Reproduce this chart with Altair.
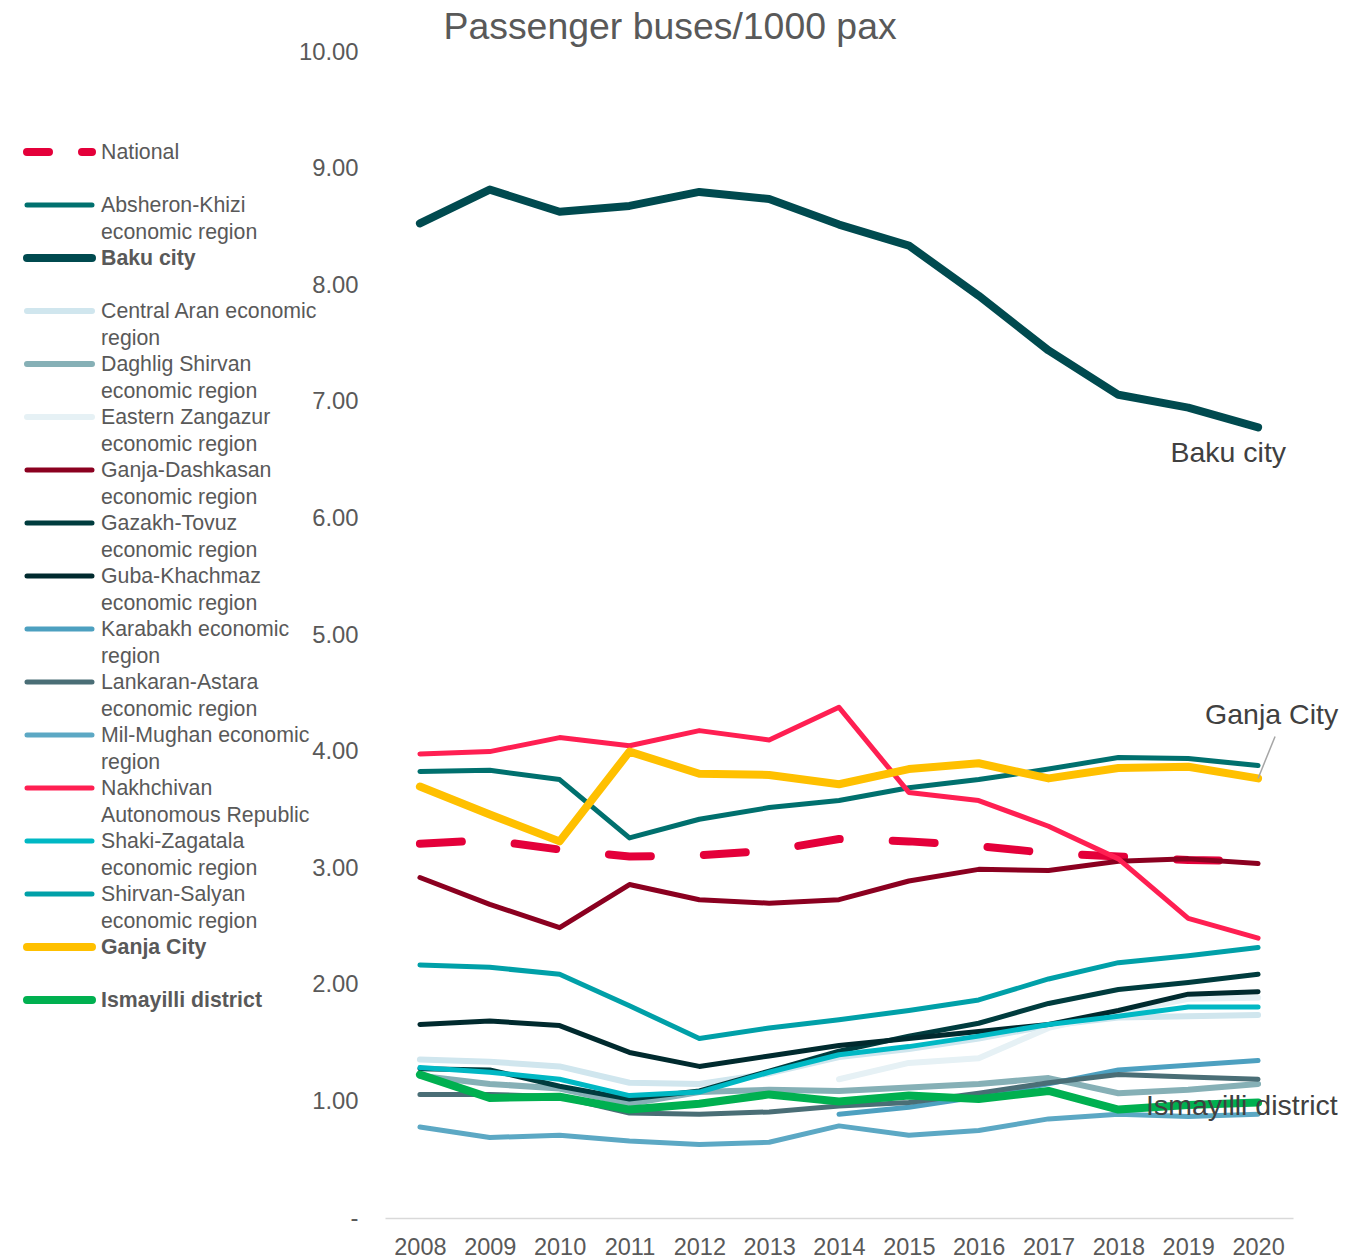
import altair as alt
import pandas as pd

FONT = "Liberation Sans"
TXT = "#595959"

years = list(range(2008, 2021))

series_names = [
    "National",
    "Absheron-Khizi economic region",
    "Baku city",
    "Central Aran economic region",
    "Daghlig Shirvan economic region",
    "Eastern Zangazur economic region",
    "Ganja-Dashkasan economic region",
    "Gazakh-Tovuz economic region",
    "Guba-Khachmaz economic region",
    "Karabakh economic region",
    "Lankaran-Astara economic region",
    "Mil-Mughan economic region",
    "Nakhchivan Autonomous Republic",
    "Shaki-Zagatala economic region",
    "Shirvan-Salyan economic region",
    "Ganja City",
    "Ismayilli district",
]

legend_labels = [
    "National",
    "Absheron-Khizi\neconomic region",
    "Baku city",
    "Central Aran economic\nregion",
    "Daghlig Shirvan\neconomic region",
    "Eastern Zangazur\neconomic region",
    "Ganja-Dashkasan\neconomic region",
    "Gazakh-Tovuz\neconomic region",
    "Guba-Khachmaz\neconomic region",
    "Karabakh economic\nregion",
    "Lankaran-Astara\neconomic region",
    "Mil-Mughan economic\nregion",
    "Nakhchivan\nAutonomous Republic",
    "Shaki-Zagatala\neconomic region",
    "Shirvan-Salyan\neconomic region",
    "Ganja City",
    "Ismayilli district",
]

bold_series = ["Baku city", "Ganja City", "Ismayilli district"]

colors = [
    "#e4003a", "#00706e", "#004a4f", "#d0e6ee", "#86b0b6", "#e6f1f5",
    "#8b0020", "#003c3e", "#002a2e", "#4da0c0", "#4a6e76", "#5ca8c4",
    "#ff1f52", "#00b8c4", "#00a0a8", "#ffc000", "#00b050",
]
line_widths = [10, 5, 10, 6, 5, 6, 5, 5, 5, 5, 5, 5, 5, 5, 5, 10, 9.5]
legend_widths = [8, 5, 8, 6, 6, 6, 5, 5, 5, 5, 5, 5, 5, 5, 5, 8, 8]
legend_dash = [[22, 33]] + [[1, 0]] * 16

national = [3.21, 3.24, 3.16, 3.10, 3.11, 3.15, 3.25, 3.23, 3.19, 3.13, 3.10, 3.07, 3.06]
absheron = [3.83, 3.84, 3.76, 3.26, 3.42, 3.52, 3.58, 3.69, 3.76, 3.85, 3.95, 3.94, 3.88]
baku = [8.53, 8.82, 8.63, 8.68, 8.80, 8.74, 8.52, 8.34, 7.91, 7.44, 7.06, 6.95, 6.78]
central_aran = [1.36, 1.34, 1.30, 1.16, 1.15, 1.24, 1.38, 1.45, 1.54, 1.65, 1.72, 1.73, 1.74]
daghlig = [1.22, 1.15, 1.11, 0.98, 1.08, 1.10, 1.09, 1.12, 1.15, 1.20, 1.07, 1.10, 1.15]
eastern = [None, None, None, None, None, None, 1.19, 1.33, 1.37, 1.63, 1.76, 1.88, 1.89]
ganja_dashkasan = [2.92, 2.69, 2.49, 2.86, 2.73, 2.70, 2.73, 2.89, 2.99, 2.98, 3.06, 3.08, 3.04]
gazakh = [1.28, 1.27, 1.13, 1.02, 1.09, 1.26, 1.43, 1.56, 1.67, 1.84, 1.96, 2.02, 2.09]
guba = [1.66, 1.69, 1.65, 1.42, 1.30, 1.39, 1.48, 1.54, 1.60, 1.66, 1.78, 1.92, 1.94]
karabakh = [None, None, None, None, None, None, 0.89, 0.95, 1.04, 1.15, 1.27, 1.31, 1.35]
lankaran = [1.06, 1.06, 1.04, 0.90, 0.89, 0.91, 0.96, 0.99, 1.07, 1.16, 1.23, 1.21, 1.19]
mil_mughan = [0.78, 0.69, 0.71, 0.66, 0.63, 0.65, 0.79, 0.71, 0.75, 0.85, 0.89, 0.87, 0.89]
nakhchivan = [3.98, 4.00, 4.12, 4.05, 4.18, 4.10, 4.38, 3.65, 3.58, 3.36, 3.08, 2.57, 2.40]
shaki = [1.29, 1.25, 1.19, 1.05, 1.08, 1.25, 1.40, 1.47, 1.56, 1.66, 1.73, 1.81, 1.81]
shirvan = [2.17, 2.15, 2.09, 1.82, 1.54, 1.63, 1.70, 1.78, 1.87, 2.05, 2.19, 2.25, 2.32]
ganja_city = [3.70, 3.46, 3.23, 4.00, 3.81, 3.80, 3.72, 3.85, 3.90, 3.77, 3.86, 3.87, 3.77]
ismayilli = [1.23, 1.03, 1.04, 0.93, 0.98, 1.06, 1.00, 1.05, 1.02, 1.09, 0.93, 0.97, 0.99]

series_values = [
    national, absheron, baku, central_aran, daghlig, eastern, ganja_dashkasan,
    gazakh, guba, karabakh, lankaran, mil_mughan, nakhchivan, shaki, shirvan,
    ganja_city, ismayilli,
]

rows = []
for name, vals in zip(series_names, series_values):
    for yr, v in zip(years, vals):
        if v is not None:
            rows.append({"series": name, "year": yr, "value": v})
df = pd.DataFrame(rows)

color_scale = alt.Scale(domain=series_names, range=colors)
width_scale = alt.Scale(type="ordinal", domain=series_names, range=line_widths)

x_enc = alt.X(
    "year:O",
    scale=alt.Scale(type="point", padding=0.5),
    axis=alt.Axis(
        title=None, labelAngle=0, ticks=False, domainColor="#d9d9d9",
        domainWidth=1.5, labelPadding=17, labelFontSize=23.5, labelColor=TXT,
        labelFont=FONT,
    ),
)
y_enc = alt.Y(
    "value:Q",
    scale=alt.Scale(domain=[0, 10], nice=False),
    axis=alt.Axis(
        title=None, values=list(range(11)), grid=False, domain=False,
        ticks=False, labelPadding=27, labelFontSize=23.8, labelColor=TXT,
        labelFont=FONT,
        labelExpr="datum.value == 0 ? '-' : format(datum.value, '.2f')",
    ),
)

base = alt.Chart(df).encode(
    x=x_enc,
    y=y_enc,
    color=alt.Color("series:N", scale=color_scale, legend=None),
    strokeWidth=alt.StrokeWidth("series:N", scale=width_scale, legend=None),
)

thin = [n for n in series_names if n != "National" and n not in bold_series]

nat_layer = base.transform_filter(alt.datum.series == "National").mark_line(
    strokeDash=[42, 53], strokeCap="round", strokeJoin="round"
)
thin_layer = base.transform_filter(
    alt.FieldOneOfPredicate(field="series", oneOf=thin)
).mark_line(strokeCap="round", strokeJoin="round")
thick_layer = base.transform_filter(
    alt.FieldOneOfPredicate(field="series", oneOf=bold_series)
).mark_line(strokeCap="round", strokeJoin="round")

# annotations at the last point of the highlighted series
ann_df = pd.DataFrame({
    "series": bold_series,
    "year": [years[-1]] * 3,
    "value": [baku[-1], ganja_city[-1], ismayilli[-1]],
    "leader_top": [None, 4.13, None],
})

ann_base = alt.Chart(ann_df).encode(x=alt.X("year:O"), y=alt.Y("value:Q"), text="series:N")
ann_style = dict(fontSize=28.5, color="#404040", font=FONT, baseline="middle")
baku_txt = ann_base.transform_filter(alt.datum.series == "Baku city").mark_text(
    align="right", dx=28, dy=26, **ann_style)
ganja_txt = ann_base.transform_filter(alt.datum.series == "Ganja City").mark_text(
    align="left", dx=-53, dy=-63, **ann_style)
ism_txt = ann_base.transform_filter(alt.datum.series == "Ismayilli district").mark_text(
    align="left", dx=-112, dy=3, **ann_style)
leader = alt.Chart(ann_df).transform_filter(alt.datum.series == "Ganja City").mark_rule(
    color="#a6a6a6", strokeWidth=1.5, x2Offset=17
).encode(x="year:O", x2="year:O", y="value:Q", y2="leader_top:Q")

main = alt.layer(
    nat_layer, thin_layer, thick_layer, leader, baku_txt, ganja_txt, ism_txt
).properties(width=908, height=1166)

# legend panel
leg_df = pd.DataFrame({
    "series": series_names,
    "label": legend_labels,
    "bold": [n in bold_series for n in series_names],
})
leg_y = alt.Y(
    "series:N",
    scale=alt.Scale(type="point", domain=series_names, range=[100, 948], padding=0),
    axis=None,
)
leg_rules = alt.Chart(leg_df).mark_rule(strokeCap="round").encode(
    x=alt.value(19),
    x2=alt.value(84),
    y=leg_y,
    color=alt.Color("series:N", scale=color_scale, legend=None),
    strokeWidth=alt.StrokeWidth(
        "series:N", scale=alt.Scale(type="ordinal", domain=series_names, range=legend_widths),
        legend=None),
    strokeDash=alt.StrokeDash(
        "series:N", scale=alt.Scale(domain=series_names, range=legend_dash), legend=None),
)
txt_style = dict(align="left", baseline="alphabetic", dy=7, fontSize=21.3,
                 lineHeight=26.5, lineBreak="\n", color=TXT, font=FONT)
leg_text = alt.Chart(leg_df).transform_filter(alt.datum.bold == False).mark_text(
    **txt_style).encode(x=alt.value(93), y=leg_y, text="label:N")
leg_text_bold = alt.Chart(leg_df).transform_filter(alt.datum.bold == True).mark_text(
    fontWeight="bold", **txt_style).encode(x=alt.value(93), y=leg_y, text="label:N")

legend_panel = alt.layer(leg_rules, leg_text, leg_text_bold).properties(
    width=357, height=1166)

chart = alt.hconcat(legend_panel, main, spacing=20, bounds="flush").properties(
    title=alt.Title(
        "Passenger buses/1000 pax", fontSize=37.4, font=FONT, color=TXT,
        fontWeight="normal", anchor="middle", dx=-3, offset=-6,
    ),
    padding=0,
).configure_view(stroke=None)

chart.save("out.html", embed_options={"renderer": "svg", "actions": False})
